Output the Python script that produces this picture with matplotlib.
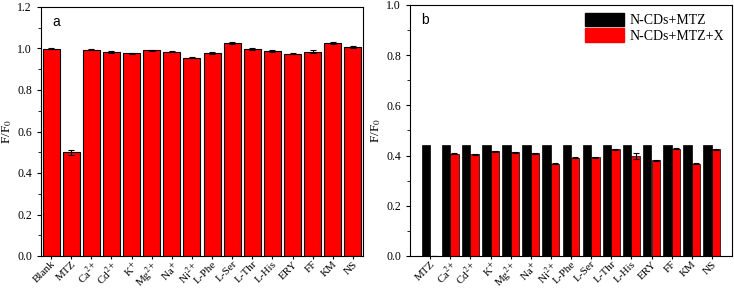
import matplotlib
matplotlib.use("Agg")
import matplotlib.pyplot as plt
import numpy as np
from matplotlib.patches import Patch
from matplotlib.ticker import MultipleLocator

# panel a
labels_a = ["Blank", "MTZ", "Ca$^{2+}$", "Cd$^{2+}$", "K$^{+}$", "Mg$^{2+}$", "Na$^{+}$",
            "Ni$^{2+}$", "L-Phe", "L-Ser", "L-Thr", "L-His", "ERY", "FF", "KM", "NS"]
ratio_a = [1.000, 0.500, 0.995, 0.983, 0.977, 0.992, 0.985, 0.955,
           0.977, 1.027, 0.998, 0.990, 0.975, 0.984, 1.027, 1.007]
err_a = [0.002, 0.012, 0.003, 0.004, 0.003, 0.003, 0.002, 0.002,
         0.004, 0.003, 0.003, 0.005, 0.002, 0.008, 0.004, 0.004]

# panel b
labels_b = ["MTZ", "Ca$^{2+}$", "Cd$^{2+}$", "K$^{+}$", "Mg$^{2+}$", "Na$^{+}$", "Ni$^{2+}$",
            "L-Phe", "L-Ser", "L-Thr", "L-His", "ERY", "FF", "KM", "NS"]
mtz_b = [0.443] * 15
mtz_x_b = [0.0, 0.408, 0.405, 0.417, 0.414, 0.410, 0.368,
           0.392, 0.393, 0.425, 0.398, 0.382, 0.428, 0.368, 0.425]
err_x_b = [0.0, 0.002, 0.002, 0.002, 0.002, 0.002, 0.002,
           0.002, 0.002, 0.002, 0.011, 0.002, 0.002, 0.002, 0.002]

plt.rcParams.update({
    "font.family": "Liberation Serif",
    "mathtext.fontset": "stix",
    "font.size": 8.5,
    "axes.linewidth": 0.8,
    "xtick.direction": "out",
    "ytick.direction": "out",
    "xtick.major.size": 2.5,
    "xtick.major.pad": 0,
    "ytick.major.size": 3,
    "ytick.minor.size": 2,
})

fig = plt.figure(figsize=(7.34, 2.91), dpi=100)
W, H = 734, 291
ax_a = fig.add_axes([41 / W, 1 - 256 / H, 322 / W, 249 / H])
ax_b = fig.add_axes([410 / W, 1 - 256 / H, 322 / W, 251 / H])

xa = np.arange(1, len(labels_a) + 1)
ax_a.bar(xa, ratio_a, width=0.84, color="#ff0000", edgecolor="black", linewidth=0.8,
         yerr=err_a, error_kw=dict(ecolor="black", elinewidth=0.8, capsize=2.5, capthick=0.8))
ax_a.set_xlim(0.5, 16.5)
ax_a.set_ylim(0, 1.2)
ax_a.yaxis.set_major_locator(MultipleLocator(0.2))
ax_a.yaxis.set_minor_locator(MultipleLocator(0.1))
ax_a.set_xticks(xa)
ax_a.set_xticklabels(labels_a, rotation=45, ha="right", rotation_mode="anchor", fontsize=8)
ax_a.set_ylabel("F/F$_0$", labelpad=2, fontsize=9.5)
ax_a.text(0.035, 0.94, "a", transform=ax_a.transAxes, family="Liberation Sans",
          fontsize=10, va="center", ha="left")

xb = np.arange(1, len(labels_b) + 1)
w = 0.42
ax_b.bar(xb - w / 2, mtz_b, width=w, color="black", edgecolor="black", linewidth=0.5)
ax_b.bar(xb + w / 2, mtz_x_b, width=w, color="#ff0000", edgecolor="black", linewidth=0.5,
         yerr=err_x_b, error_kw=dict(ecolor="black", elinewidth=0.8, capsize=2, capthick=0.8))
ax_b.set_xlim(0, 16)
ax_b.set_ylim(0, 1.0)
ax_b.yaxis.set_major_locator(MultipleLocator(0.2))
ax_b.yaxis.set_minor_locator(MultipleLocator(0.1))
ax_b.set_xticks(xb)
ax_b.set_xticklabels(labels_b, rotation=45, ha="right", rotation_mode="anchor", fontsize=8)
ax_b.set_ylabel("F/F$_0$", labelpad=2, fontsize=9.5)
ax_b.text(0.035, 0.94, "b", transform=ax_b.transAxes, family="Liberation Sans",
          fontsize=10, va="center", ha="left")

handles = [Patch(facecolor="black", edgecolor="black"), Patch(facecolor="#ff0000", edgecolor="#ff0000")]
ax_b.legend(handles, ["N-CDs+MTZ", "N-CDs+MTZ+X"], loc="upper right", frameon=False,
            fontsize=10, handlelength=2.8, handleheight=1.1, handletextpad=0.4,
            borderaxespad=0.15, labelspacing=0.1)

fig.savefig("out.png", dpi=100)
